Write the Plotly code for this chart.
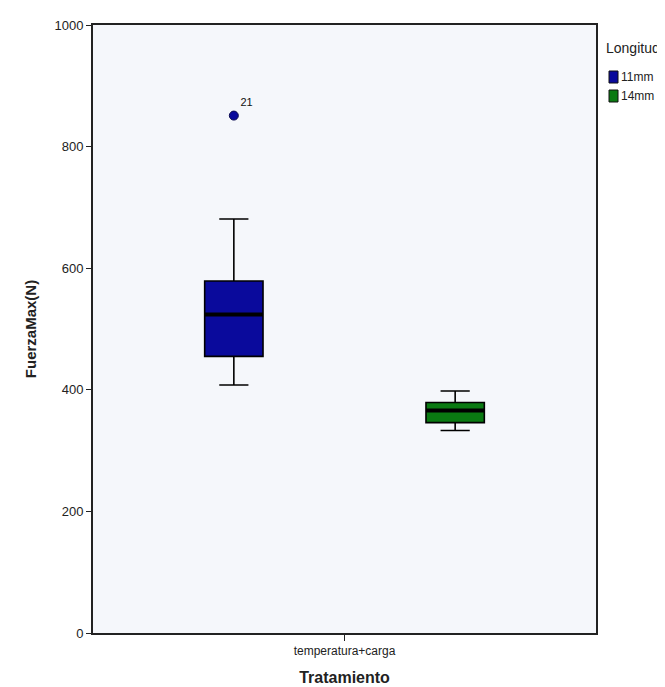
import plotly.graph_objects as go

# Data
categories = ["temperatura+carga"]
groups = ["11mm", "14mm"]
q1_vals = [455, 346]
median_vals = [524, 366]
q3_vals = [579, 379]
lower_vals = [408, 333]
upper_vals = [681, 398]
outlier_vals = [[851], []]
outlier_ids = [["21"], []]
colors = ["#0a0a9c", "#0a7a12"]
y_ticks = [0, 200, 400, 600, 800, 1000]
legend_title = "Longitud"

positions = [-0.44, 0.44]
box_w = 0.232

fig = go.Figure()
for i, g in enumerate(groups):
    fig.add_trace(go.Box(
        name=g, x=[positions[i]], q1=[q1_vals[i]], median=[median_vals[i]],
        q3=[q3_vals[i]], lowerfence=[lower_vals[i]], upperfence=[upper_vals[i]],
        width=box_w, whiskerwidth=0.5, fillcolor=colors[i],
        line=dict(color="black", width=1.6), boxpoints=False,
        showlegend=False,
    ))
    # thick median line
    fig.add_trace(go.Scatter(
        x=[positions[i] - box_w / 2, positions[i] + box_w / 2],
        y=[median_vals[i], median_vals[i]], mode="lines",
        line=dict(color="black", width=4), showlegend=False, hoverinfo="skip",
    ))
    if outlier_vals[i]:
        fig.add_trace(go.Scatter(
            x=[positions[i]] * len(outlier_vals[i]), y=outlier_vals[i],
            mode="markers+text", text=outlier_ids[i], textposition="top right",
            textfont=dict(size=11, color="#111", family="Liberation Sans"),
            marker=dict(color=colors[i], size=9, line=dict(color="#0a0a50", width=1)),
            showlegend=False, hoverinfo="skip",
        ))

# custom compact legend (SPSS style)
W, H = 665, 687
L, R, T, B = 85, 588, 17, 625
fig.add_annotation(text=legend_title, xref="paper", yref="paper",
                   x=(596 - L) / (R - L), y=1 - (40 - T) / (B - T),
                   xanchor="left", yanchor="middle", showarrow=False,
                   font=dict(size=14, family="Liberation Sans", color="#222"))
for i, g in enumerate(groups):
    yc = 69 + 19 * i
    fig.add_shape(type="rect", xref="paper", yref="paper",
                  x0=(601 - L) / (R - L), x1=(610 - L) / (R - L),
                  y0=1 - (yc + 6 - T) / (B - T), y1=1 - (yc - 6 - T) / (B - T),
                  fillcolor=colors[i], line=dict(color="#111", width=1))
    fig.add_annotation(text=g, xref="paper", yref="paper",
                       x=(611 - L) / (R - L), y=1 - (yc - T) / (B - T),
                       xanchor="left", yanchor="middle", showarrow=False,
                       font=dict(size=12, family="Liberation Sans Narrow, Liberation Sans", color="#222"))

fig.update_layout(
    width=W, height=H,
    margin=dict(l=L, r=W - R, t=T, b=H - B, autoexpand=False),
    paper_bgcolor="white", plot_bgcolor="#f5f7fb",
    font=dict(family="Liberation Sans Narrow, Liberation Sans, Arial", size=12, color="#222"),
    showlegend=False,
    xaxis=dict(range=[-1, 1], tickvals=[0], ticktext=categories,
               showgrid=False, zeroline=False, showline=True, mirror=True,
               linecolor="#222", linewidth=2, ticks="outside", ticklen=6,
               tickcolor="#222", tickfont=dict(size=12), automargin=False,
               title=dict(text="<b>Tratamiento</b>", standoff=14,
                          font=dict(size=16, family="Liberation Sans Narrow, Liberation Sans"))),
    yaxis=dict(range=[0, 1000], tickvals=y_ticks, showgrid=False, zeroline=False,
               showline=True, mirror=True, linecolor="#222", linewidth=2,
               ticks="outside", ticklen=5, tickcolor="#222", tickfont=dict(size=13),
               automargin=False,
               title=dict(text="<b>FuerzaMax(N)</b>", standoff=14,
                          font=dict(size=15, family="Liberation Sans"))),
)

fig.write_html("out.html")
